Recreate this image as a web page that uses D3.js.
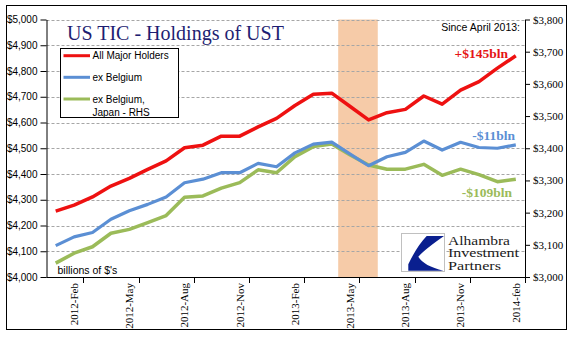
<!DOCTYPE html>
<html lang="en">
<head>
    <meta charset="UTF-8">
    <title>US TIC - Holdings of UST</title>
    <script src="https://d3js.org/d3.v7.min.js"></script>
    <style>
        body {
            margin: 0;
            padding: 0;
            background: #fff;
        }
        .sans { font-family: "Liberation Sans", Arial, sans-serif; }
        .serif { font-family: "Liberation Serif", "Times New Roman", serif; }
        .grid line {
            stroke: #a6a6a6;
            stroke-dasharray: 3,2;
        }
    </style>
</head>
<body>
    <script>
        // monthly categories
        const months = [
            "2012-Jan", "2012-Feb", "2012-Mar", "2012-Apr", "2012-May", "2012-Jun",
            "2012-Jul", "2012-Aug", "2012-Sep", "2012-Oct", "2012-Nov", "2012-Dec",
            "2013-Jan", "2013-Feb", "2013-Mar", "2013-Apr", "2013-May", "2013-Jun",
            "2013-Jul", "2013-Aug", "2013-Sep", "2013-Oct", "2013-Nov", "2013-Dec",
            "2014-Jan", "2014-Feb"
        ];
        const tickMonths = ["2012-Feb", "2012-May", "2012-Aug", "2012-Nov", "2013-Feb",
                            "2013-May", "2013-Aug", "2013-Nov", "2014-Feb"];
        const tickLabels = ["2012-Feb", "2012-May", "2012-Aug", "2012-Nov", "2013-Feb",
                            "2013-May", "2013-Aug", "2013-Nov", "2014-feb"];

        // billions of $ (left axis)
        const allMajor = [4256, 4279, 4311, 4353, 4383, 4418, 4451, 4502, 4512, 4547, 4547, 4583, 4616,
                          4666, 4710, 4714, 4662, 4610, 4638, 4651, 4703, 4671, 4726, 4759, 4811, 4859];
        const exBelgium = [4122, 4156, 4173, 4224, 4257, 4282, 4311, 4366, 4380, 4405, 4405, 4441, 4428,
                           4482, 4516, 4524, 4477, 4432, 4467, 4484, 4528, 4493, 4523, 4503, 4500, 4513];
        // billions of $ (right axis)
        const exBelJapan = [3043, 3074, 3094, 3136, 3148, 3169, 3191, 3248, 3252, 3276, 3293, 3333, 3324,
                            3374, 3405, 3413, 3379, 3348, 3335, 3335, 3350, 3316, 3335, 3318, 3296, 3304];

        const leftTicks = d3.range(4000, 5001, 100);
        const rightTicks = d3.range(3000, 3801, 100);
        const shadeMonths = ["2013-May", "2013-Jun"];

        const W = 577, H = 341;
        const L = 46.5, R = 525, T = 19.5, B = 277;

        const svg = d3.select("body").append("svg")
            .attr("width", W)
            .attr("height", H);

        // outer frame
        svg.append("rect")
            .attr("x", 6.5).attr("y", 5.5)
            .attr("width", 560).attr("height", 324)
            .attr("fill", "#fff")
            .attr("stroke", "#000");

        const x = d3.scaleBand().domain(months).range([L, R]).padding(0);
        const bw = x.bandwidth();
        const cx = m => x(m) + bw / 2;
        const yL = d3.scaleLinear().domain([4000, 5000]).range([B, T]);
        const yR = d3.scaleLinear().domain([3000, 3800]).range([B, T]);

        // shaded band
        svg.append("rect")
            .attr("x", x(shadeMonths[0]) - bw * 0.15)
            .attr("y", T)
            .attr("width", x(shadeMonths[1]) + bw - x(shadeMonths[0]) + bw * 0.15)
            .attr("height", B - T)
            .attr("fill", "#f6cba8");

        // gridlines
        svg.append("g").attr("class", "grid")
            .selectAll("line")
            .data(leftTicks.slice(1))
            .join("line")
            .attr("x1", L).attr("x2", R)
            .attr("y1", d => Math.round(yL(d)) + 0.5)
            .attr("y2", d => Math.round(yL(d)) + 0.5);

        // lines
        const lineL = d3.line().x((d, i) => cx(months[i])).y(d => yL(d));
        const lineR = d3.line().x((d, i) => cx(months[i])).y(d => yR(d));

        svg.append("path").datum(exBelJapan)
            .attr("d", lineR).attr("fill", "none")
            .attr("stroke", "#9bbb59").attr("stroke-width", 3.5)
            .attr("stroke-linejoin", "round");
        svg.append("path").datum(exBelgium)
            .attr("d", lineL).attr("fill", "none")
            .attr("stroke", "#5b8fd4").attr("stroke-width", 3.2)
            .attr("stroke-linejoin", "round");
        svg.append("path").datum(allMajor)
            .attr("d", lineL).attr("fill", "none")
            .attr("stroke", "#ee1111").attr("stroke-width", 3.5)
            .attr("stroke-linejoin", "round");

        // left axis
        const gL = svg.append("g")
            .attr("transform", `translate(${L},0)`)
            .call(d3.axisLeft(yL).tickValues(leftTicks).tickFormat(d3.format("$,"))
                .tickSize(6).tickSizeOuter(0).tickPadding(3));
        gL.selectAll("text").attr("class", "sans").style("font-size", "10px").attr("fill", "#000");

        // right axis
        const gR = svg.append("g")
            .attr("transform", `translate(${R},0)`)
            .call(d3.axisRight(yR).tickValues(rightTicks).tickFormat(d3.format("$,"))
                .tickSize(5).tickSizeOuter(0).tickPadding(3));
        gR.selectAll("text").attr("class", "serif").style("font-size", "11px").attr("fill", "#000");

        // bottom axis
        svg.append("line")
            .attr("x1", L).attr("x2", R)
            .attr("y1", B + 0.5).attr("y2", B + 0.5)
            .attr("stroke", "#000");
        svg.append("g").selectAll("line")
            .data(tickMonths)
            .join("line")
            .attr("x1", d => Math.round(x(d) + bw) + 0.5)
            .attr("x2", d => Math.round(x(d) + bw) + 0.5)
            .attr("y1", B).attr("y2", B + 6)
            .attr("stroke", "#000");
        svg.append("g").selectAll("text")
            .data(tickMonths)
            .join("text")
            .attr("class", "serif")
            .attr("transform", d => `translate(${cx(d)},${B + 6}) rotate(-90)`)
            .attr("dy", "0.35em")
            .attr("text-anchor", "end")
            .style("font-size", "11px")
            .text((d, i) => tickLabels[i]);

        // title
        svg.append("text")
            .attr("class", "serif")
            .attr("x", 67).attr("y", 39.5)
            .attr("fill", "#1e1e72")
            .style("font-size", "20px")
            .text("US TIC - Holdings of UST");

        // legend
        const legend = svg.append("g");
        legend.append("rect")
            .attr("x", 60.5).attr("y", 48.5)
            .attr("width", 118).attr("height", 69)
            .attr("fill", "#fff").attr("stroke", "#000");
        const legendItems = [
            { label: ["All Major Holders"], color: "#ee1111", y: 55.7 },
            { label: ["ex Belgium"], color: "#5b8fd4", y: 77.3 },
            { label: ["ex Belgium,", "Japan - RHS"], color: "#9bbb59", y: 99 }
        ];
        legendItems.forEach(it => {
            legend.append("line")
                .attr("x1", 63.5).attr("x2", 90)
                .attr("y1", it.y).attr("y2", it.y)
                .attr("stroke", it.color).attr("stroke-width", 3);
            it.label.forEach((t, j) => {
                legend.append("text")
                    .attr("class", "sans")
                    .attr("x", 92.5).attr("y", it.y + 3.5 + j * 13)
                    .style("font-size", "10px")
                    .text(t);
            });
        });

        // annotations
        svg.append("text")
            .attr("class", "sans")
            .attr("x", 520).attr("y", 31)
            .attr("text-anchor", "end")
            .style("font-size", "10.5px")
            .text("Since April 2013:");

        const notes = [
            { text: "+$145bln", color: "#e51414", x: 508, y: 57.5 },
            { text: "-$11bln", color: "#5b8fd4", x: 515, y: 139.5 },
            { text: "-$109bln", color: "#9bbb59", x: 512, y: 197 }
        ];
        svg.selectAll(".note")
            .data(notes)
            .join("text")
            .attr("class", "serif note")
            .attr("x", d => d.x).attr("y", d => d.y)
            .attr("text-anchor", "end")
            .attr("fill", d => d.color)
            .style("font-size", "13.5px")
            .style("font-weight", "bold")
            .text(d => d.text);

        svg.append("text")
            .attr("class", "sans")
            .attr("x", 57.5).attr("y", 274)
            .style("font-size", "10.5px")
            .text("billions of $'s");

        // logo
        const logo = svg.append("g");
        logo.append("rect")
            .attr("x", 401.5).attr("y", 233.5)
            .attr("width", 43).attr("height", 38)
            .attr("fill", "#fff").attr("stroke", "#c0c0c0");
        logo.append("path")
            .attr("d", "M426.7,236 L444,236 Q424,250 418.3,256.7 Q424,266 443.5,270.7 L408.3,270.7 L408.3,264.3 Q417,246 426.7,236 Z")
            .attr("fill", "#0a1f8f");
        const logoText = [
            { t: "Alhambra", y: 244.5, w: 62 },
            { t: "Investment", y: 257, w: 71 },
            { t: "Partners", y: 269.5, w: 53 }
        ];
        logoText.forEach(d => {
            logo.append("text")
                .attr("class", "serif")
                .attr("x", 448).attr("y", d.y)
                .attr("fill", "#1a1a1a")
                .attr("textLength", d.w)
                .attr("lengthAdjust", "spacingAndGlyphs")
                .style("font-size", "12.5px")
                .text(d.t);
        });

        // axis styling
        svg.selectAll(".domain").attr("stroke", "#000");
        svg.selectAll(".tick line").attr("stroke", "#000");
    </script>
</body>
</html>
